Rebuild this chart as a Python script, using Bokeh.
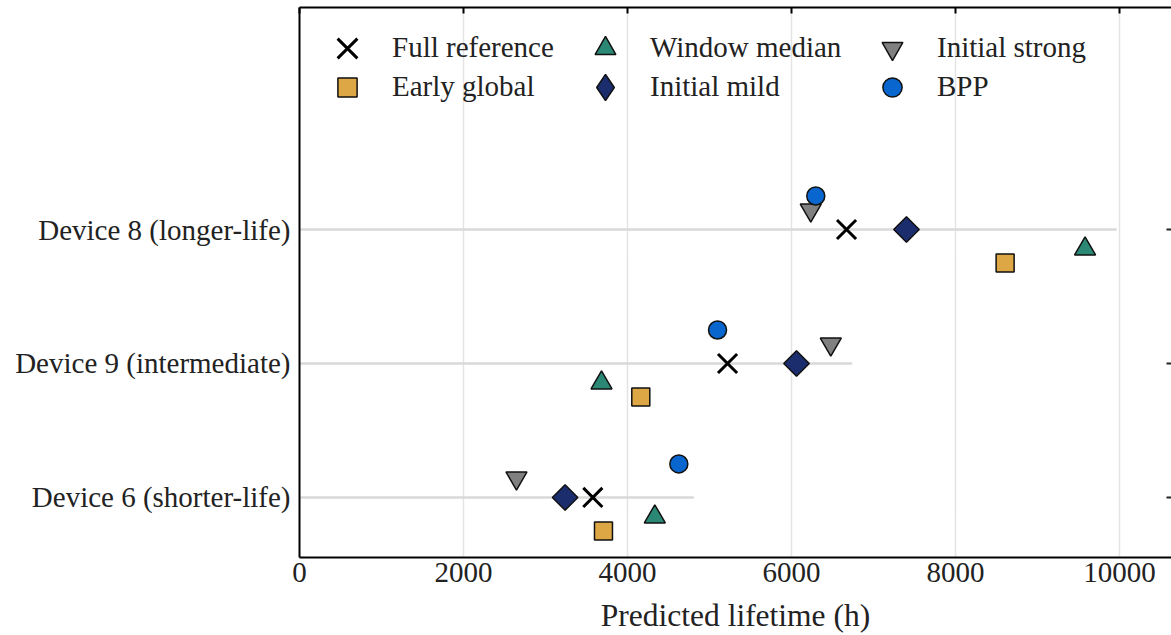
import numpy as np
from bokeh.plotting import figure
from bokeh.models import Range1d, LinearAxis, FixedTicker, Legend, LegendItem
from bokeh.embed import file_html
from bokeh.resources import INLINE

# ---------------- data ----------------
devices = ["Device 6 (shorter-life)", "Device 9 (intermediate)", "Device 8 (longer-life)"]
full_reference = [3577, 5220, 6671]
early_global = [3707, 4162, 8605]
window_median = [4333, 3683, 9580]
initial_mild = [3239, 6061, 7402]
initial_strong = [2646, 6479, 6235]
bpp = [4626, 5098, 6296]
range_line_end = [4810, 6740, 9965]
x_ticks = [0, 2000, 4000, 6000, 8000, 10000]

# ---------------- style ----------------
FONT = "Liberation Serif"
TEXT = "#222222"
EDGE = "#111111"
FRAME_H = 550
TICK_FS = "29px"
LEG_FS = "29px"

ypos = np.arange(len(devices))

p = figure(width=1171, height=635, output_backend="svg", toolbar_location=None,
           x_range=Range1d(0, 10634), y_range=Range1d(-0.448, 3.657),
           min_border_left=299, min_border_right=0, min_border_top=7, min_border_bottom=78)
p.outline_line_color = None
p.background_fill_color = "white"
p.border_fill_color = "white"

# grids
p.ygrid.visible = False
p.xgrid.ticker = FixedTicker(ticks=x_ticks)
p.xgrid.grid_line_color = "#e4e4e4"
p.xgrid.grid_line_width = 1.5

# bottom axis
xa = p.xaxis[0]
xa.ticker = FixedTicker(ticks=x_ticks)
xa.axis_label = "Predicted lifetime (h)"
xa.axis_label_text_font = FONT
xa.axis_label_text_font_size = "31.5px"
xa.axis_label_text_font_style = "normal"
xa.axis_label_text_color = TEXT
xa.axis_label_standoff = 13
xa.major_label_text_font = FONT
xa.major_label_text_font_size = TICK_FS
xa.major_label_text_color = TEXT
xa.major_label_standoff = 5
xa.major_tick_out = 0
xa.major_tick_in = 0
xa.minor_tick_line_color = None
xa.axis_line_width = 2
xa.axis_line_color = "black"

# left axis
ya = p.yaxis[0]
ya.ticker = FixedTicker(ticks=ypos.tolist())
ya.major_label_overrides = {int(i): d for i, d in zip(ypos, devices)}
ya.major_label_text_font = FONT
ya.major_label_text_font_size = TICK_FS
ya.major_label_text_color = TEXT
ya.major_label_standoff = 9
ya.major_tick_out = 0
ya.major_tick_in = 0
ya.minor_tick_line_color = None
ya.axis_line_width = 2
ya.axis_line_color = "black"

# top axis (ticks only)
top = LinearAxis(ticker=FixedTicker(ticks=x_ticks), major_tick_in=6, major_tick_out=0,
                 minor_tick_line_color=None, major_label_text_font_size="0px",
                 major_label_overrides={t: "" for t in x_ticks},
                 major_label_standoff=0, axis_line_width=2, axis_line_color="black",
                 major_tick_line_width=2, major_tick_line_color="black")
p.add_layout(top, "above")

# right axis (ticks only, frame edge outside window)
right = LinearAxis(ticker=FixedTicker(ticks=ypos.tolist()), major_tick_in=5, major_tick_out=0,
                   minor_tick_line_color=None, major_label_text_font_size="0px",
                   major_label_overrides={int(i): "" for i in ypos},
                   major_label_standoff=0, axis_line_color=None,
                   major_tick_line_width=2, major_tick_line_color="#222222")
p.add_layout(right, "right")

# range lines
p.segment(x0=0, y0=ypos, x1=range_line_end, y1=ypos, line_color="#d9d9d9", line_width=2.5)

TRI = 0.145
MILD = "#1C2D6E"

# bokeh's own diamond marker, hidden under the rotated square, used as legend sample
mild_sample = p.scatter(x=initial_mild, y=ypos, marker="diamond", size=23,
                        fill_color=MILD, line_color=EDGE, line_width=1.5)

series = [
    ("Full reference", full_reference, 0.0, dict(marker="x", size=27, line_color="black", line_width=3)),
    ("Early global", early_global, -0.25, dict(marker="square", size=18, fill_color="#DCA744", line_color=EDGE, line_width=1.5)),
    ("Window median", window_median, -TRI, dict(marker="triangle", size=21, fill_color="#2A8875", line_color=EDGE, line_width=1.5)),
    ("Initial mild", initial_mild, 0.0, dict(marker="square", angle=np.pi / 4, size=18, fill_color=MILD, line_color=EDGE, line_width=1.5)),
    ("Initial strong", initial_strong, TRI, dict(marker="inverted_triangle", size=21, fill_color="#808080", line_color=EDGE, line_width=1.5)),
    ("BPP", bpp, 0.25, dict(marker="circle", size=18, fill_color="#0A66CF", line_color=EDGE, line_width=1.5)),
]

renderers = {}
for name, vals, off, style in series:
    renderers[name] = p.scatter(x=vals, y=ypos + off, **style)

# legend layout: (name, renderer, centre x, centre y in frame px, glyph box)
cols = [48, 306, 593]
rows = [40.5, 79.5]
legend_spec = [
    ("Full reference", renderers["Full reference"], cols[0], rows[0], 70),
    ("Early global", renderers["Early global"], cols[0], rows[1], 48),
    ("Window median", renderers["Window median"], cols[1], rows[0], 52),
    ("Initial mild", mild_sample, cols[1], rows[1], 66),
    ("Initial strong", renderers["Initial strong"], cols[2], rows[0], 52),
    ("BPP", renderers["BPP"], cols[2], rows[1], 48),
]
for name, r, cx, cy, g in legend_spec:
    lg = Legend(items=[LegendItem(label=name, renderers=[r])],
                location=(cx - g / 2, FRAME_H - cy - g / 2),
                glyph_width=g, glyph_height=g, label_standoff=int(round(45 - g / 2)),
                padding=0, margin=0, border_line_color=None, background_fill_alpha=0,
                label_text_font=FONT, label_text_font_size=LEG_FS, label_text_color=TEXT)
    p.add_layout(lg, "center")

open("out.html", "w").write(file_html(p, INLINE))
